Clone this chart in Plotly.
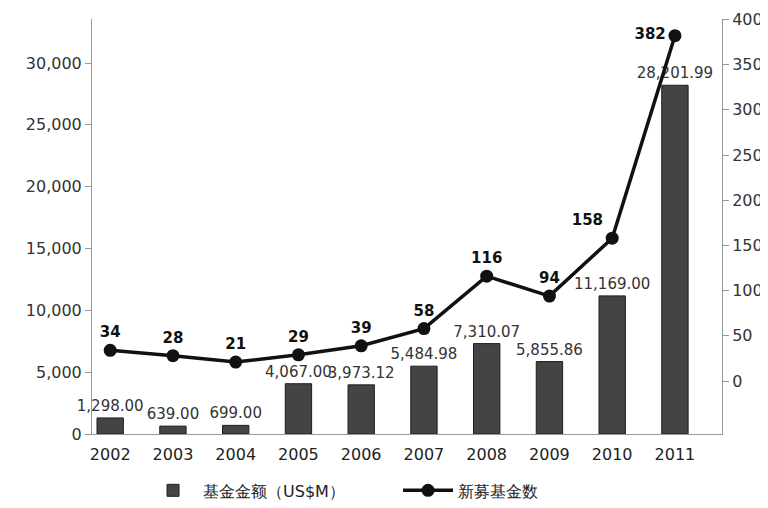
import plotly.graph_objects as go

years = [2002, 2003, 2004, 2005, 2006, 2007, 2008, 2009, 2010, 2011]
amounts = [1298.00, 639.00, 699.00, 4067.00, 3973.12, 5484.98, 7310.07, 5855.86, 11169.00, 28201.99]
counts = [34, 28, 21, 29, 39, 58, 116, 94, 158, 382]
bar_name = "基金金额（US$M）"
line_name = "新募基金数"

font_family = "DejaVu Sans, Liberation Sans, sans-serif"

line_text_pos = ["top center"] * 8 + ["top left", "middle left"]

fig = go.Figure()
fig.add_trace(go.Bar(
    x=years, y=amounts, name=bar_name,
    width=0.42,
    marker=dict(color="#444444", line=dict(color="#1e1e1e", width=1)),
    text=[f"{v:,.2f}" for v in amounts], textposition="outside",
    constraintext="none",
    textfont=dict(family=font_family, size=15, color="#333333"),
    cliponaxis=False,
))
fig.add_trace(go.Scatter(
    x=years, y=counts, name=line_name, yaxis="y2",
    mode="lines+markers+text",
    line=dict(color="#111111", width=3.5),
    marker=dict(color="#111111", size=13),
    text=[str(v) for v in counts], textposition=line_text_pos,
    textfont=dict(family=font_family, size=15, color="#111111", weight="bold"),
    cliponaxis=False,
))

fig.update_layout(
    width=768, height=508,
    paper_bgcolor="white", plot_bgcolor="white",
    margin=dict(l=84, r=54, t=11, b=82, autoexpand=False),
    font=dict(family=font_family, size=16, color="#333333"),
    showlegend=True,
    legend=dict(orientation="h", x=0.081, xanchor="left", y=-0.095, yanchor="top",
                font=dict(size=16, color="#222222"), itemwidth=50,
                entrywidth=190, entrywidthmode="pixels",
                traceorder="normal"),
    xaxis=dict(range=[2001.71, 2011.75], tickvals=years, ticktext=[str(y) for y in years],
               showgrid=False, zeroline=False, showline=True, linecolor="#999999",
               ticks="", ticklabelstandoff=6, automargin=False,
               tickfont=dict(size=16, color="#222222")),
    yaxis=dict(range=[0, 33560], tickvals=[0, 5000, 10000, 15000, 20000, 25000, 30000],
               tickformat=",", showgrid=False, zeroline=False, showline=True,
               linecolor="#999999", ticks="outside", ticklen=6, tickcolor="#999999",
               automargin=False, tickfont=dict(size=16, color="#333333")),
    yaxis2=dict(range=[-58.6, 400.5], overlaying="y", side="right",
                tickvals=[0, 50, 100, 150, 200, 250, 300, 350, 400],
                showgrid=False, zeroline=False, showline=True, linecolor="#999999",
                ticks="outside", ticklen=6, tickcolor="#999999",
                automargin=False, tickfont=dict(size=16, color="#333333")),
)

fig.write_html("out.html")
